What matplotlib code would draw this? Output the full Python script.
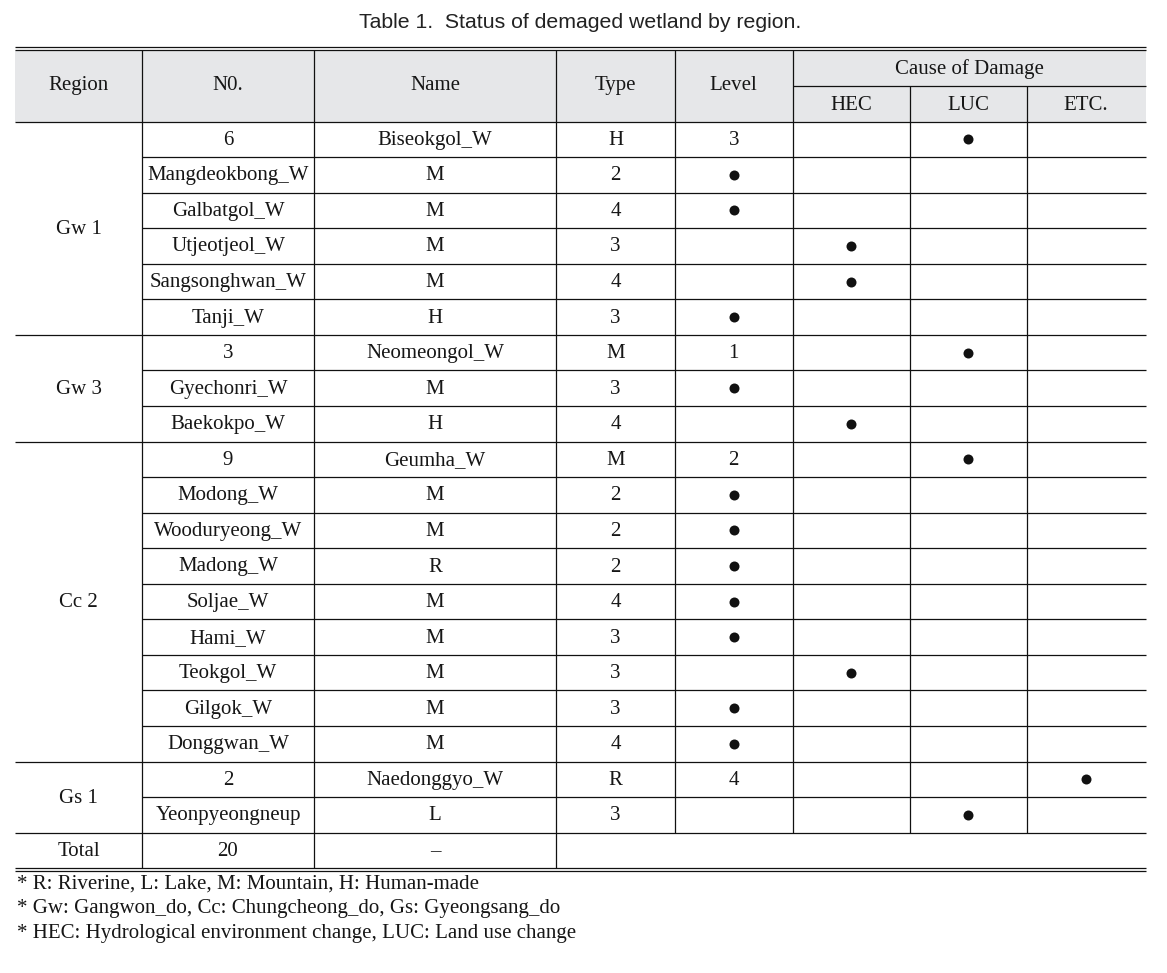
import matplotlib
matplotlib.use("Agg")
import matplotlib.pyplot as plt

# table data, copied cell by cell from the printed table (columns are shifted in the source)
regions = ["Gw 1", "Gw 3", "Cc 2", "Gs 1"]
region_rows = [6, 3, 9, 2]

col_no = ["6", "Mangdeokbong_W", "Galbatgol_W", "Utjeotjeol_W", "Sangsonghwan_W", "Tanji_W",
          "3", "Gyechonri_W", "Baekokpo_W",
          "9", "Modong_W", "Wooduryeong_W", "Madong_W", "Soljae_W", "Hami_W", "Teokgol_W",
          "Gilgok_W", "Donggwan_W",
          "2", "Yeonpyeongneup"]
col_name = ["Biseokgol_W", "M", "M", "M", "M", "H",
            "Neomeongol_W", "M", "H",
            "Geumha_W", "M", "M", "R", "M", "M", "M", "M", "M",
            "Naedonggyo_W", "L"]
col_type = ["H", "2", "4", "3", "4", "3",
            "M", "3", "4",
            "M", "2", "2", "2", "4", "3", "3", "3", "4",
            "R", "3"]
col_level = ["3", "●", "●", "", "", "●",
             "1", "●", "",
             "2", "●", "●", "●", "●", "●", "", "●", "●",
             "4", ""]
col_hec = ["", "", "", "●", "●", "",
           "", "", "●",
           "", "", "", "", "", "", "●", "", "",
           "", ""]
col_luc = ["●", "", "", "", "", "",
           "●", "", "",
           "●", "", "", "", "", "", "", "", "",
           "", "●"]
col_etc = ["", "", "", "", "", "",
           "", "", "",
           "", "", "", "", "", "", "", "", "",
           "●", ""]
total_row = ["Total", "20", "–"]

header = ["Region", "N0.", "Name", "Type", "Level"]
sub_header = ["HEC", "LUC", "ETC."]
title = "Table 1.  Status of demaged wetland by region."
notes = ["* R: Riverine, L: Lake, M: Mountain, H: Human-made",
         "* Gw: Gangwon_do, Cc: Chungcheong_do, Gs: Gyeongsang_do",
         "* HEC: Hydrological environment change, LUC: Land use change"]

# layout in pixels
W, H = 1167, 973
xs = [15, 142, 314, 556, 675, 792.5, 909.5, 1026.5, 1145.5]
y_top = 48
y_head = 121.5
y_sub = 86
row_h = 35.56
n_rows = len(col_no)
y_total = y_head + n_rows * row_h
y_bot = y_total + 34.8
lw = 0.9
serif = ["Liberation Serif", "DejaVu Serif"]
fs = 15
tc = "#161616"
dy = 1.0  # small nudge so glyphs sit like the print

fig = plt.figure(figsize=(W / 100, H / 100), dpi=100)
ax = fig.add_axes([0, 0, 1, 1])
ax.set_xlim(0, W)
ax.set_ylim(H, 0)
ax.axis("off")

ax.text(580, 22, title, ha="center", va="center",
        fontsize=15.3, family=["Liberation Sans", "DejaVu Sans"], color="#222222")

# header background
ax.fill_between([xs[0], xs[-1]], y_top + 2, y_head, color="#e6e7e9", lw=0)

def hline(y, x0, x1):
    ax.plot([x0, x1], [y, y], color="#111111", lw=lw, solid_capstyle="butt")

def vline(x, y0, y1):
    ax.plot([x, x], [y0, y1], color="#111111", lw=lw, solid_capstyle="butt")

# double rules top and bottom
hline(y_top - 1.5, xs[0], xs[-1])
hline(y_top + 2, xs[0], xs[-1])
hline(y_bot, xs[0], xs[-1])
hline(y_bot + 3.7, xs[0], xs[-1])
hline(y_head, xs[0], xs[-1])
hline(y_sub, xs[5], xs[-1])

# header text
for i, lab in enumerate(header):
    ax.text((xs[i] + xs[i + 1]) / 2, (y_top + y_head) / 2 + dy, lab, ha="center", va="center",
            fontsize=fs, family=serif, color=tc)
ax.text((xs[5] + xs[-1]) / 2, (y_top + y_sub) / 2 + 1 + dy, "Cause of Damage", ha="center",
        va="center", fontsize=fs, family=serif, color=tc)
for i, lab in enumerate(sub_header):
    ax.text((xs[5 + i] + xs[6 + i]) / 2, (y_sub + y_head) / 2 + 1 + dy, lab, ha="center",
            va="center", fontsize=fs, family=serif, color=tc)

# header verticals
for i in range(1, 6):
    vline(xs[i], y_top + 2, y_head)
for i in range(6, 8):
    vline(xs[i], y_sub, y_head)

# body
columns = [col_no, col_name, col_type, col_level, col_hec, col_luc, col_etc]
start = 0
for reg, n in zip(regions, region_rows):
    y0 = y_head + start * row_h
    y1 = y0 + n * row_h
    ax.text((xs[0] + xs[1]) / 2, (y0 + y1) / 2 + dy, reg, ha="center", va="center",
            fontsize=fs, family=serif, color=tc)
    for r in range(start, start + n):
        yr = y_head + r * row_h
        if r > start:
            hline(yr, xs[1], xs[-1])
        yc = yr + row_h / 2
        for c, col in enumerate(columns):
            val = col[r]
            xc = (xs[c + 1] + xs[c + 2]) / 2
            if val == "●":
                ax.plot(xc, yc, "o", ms=7.2, color="#111111", mec="none")
            elif val:
                ax.text(xc, yc + dy, val, ha="center", va="center", fontsize=fs,
                        family=serif, color=tc)
    hline(y1, xs[0], xs[-1])
    start += n

for i in range(1, 8):
    vline(xs[i], y_head, y_total)

# total row
for i, val in enumerate(total_row):
    ax.text((xs[i] + xs[i + 1]) / 2, (y_total + y_bot) / 2 + dy, val, ha="center",
            va="center", fontsize=fs, family=serif, color=tc)
for i in range(1, 4):
    vline(xs[i], y_total, y_bot)

# footnotes
for k, note in enumerate(notes):
    ax.text(17, 884.5 + k * 24.5, note, ha="left", va="center", fontsize=fs,
            family=serif, color=tc)

fig.savefig("out.png", dpi=100)
